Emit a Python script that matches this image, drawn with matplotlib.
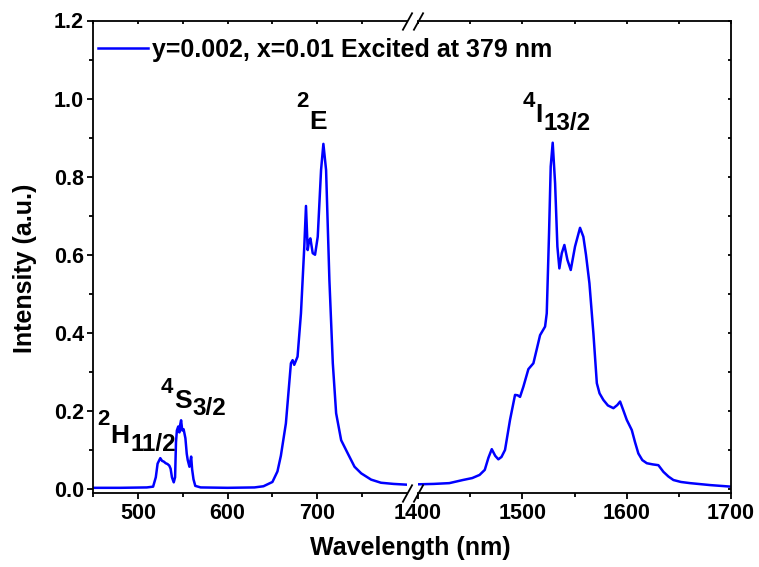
import matplotlib
matplotlib.use("Agg")
from matplotlib import pyplot as plt
from matplotlib.ticker import MultipleLocator, FixedLocator

plt.rcParams['font.family'] = ['Liberation Sans', 'DejaVu Sans']
plt.rcParams['font.weight'] = 'bold'

# visible part of the spectrum (nm, a.u.)
wl_vis = [450, 480, 510, 517, 520, 522, 525, 527, 529, 531, 533, 535, 536.5, 538, 540,
          541.5, 542.5, 543.5, 545, 546.3, 547.2, 548.2, 549.5, 551, 553, 554.5, 555.6,
          557.5, 559.4, 560.5, 562, 564, 570, 600, 630, 640, 650, 655.6, 659.4, 665,
          670.6, 672.5, 674.3, 678, 681.8, 685.5, 687.4, 689.3, 690.8, 692.3, 694.9,
          697.5, 700.5, 704.2, 706.8, 709.8, 713.5, 717.3, 721, 726.6, 734, 741.5, 749,
          760, 771, 785, 800]
int_vis = [0.003, 0.003, 0.004, 0.006, 0.03, 0.065, 0.079, 0.072, 0.070, 0.066, 0.064,
           0.060, 0.052, 0.03, 0.017, 0.03, 0.12, 0.15, 0.16, 0.145, 0.165, 0.176, 0.15,
           0.153, 0.13, 0.09, 0.074, 0.057, 0.083, 0.05, 0.025, 0.008, 0.004, 0.003,
           0.004, 0.007, 0.018, 0.045, 0.085, 0.168, 0.322, 0.330, 0.318, 0.339, 0.45,
           0.62, 0.725, 0.612, 0.635, 0.642, 0.604, 0.60, 0.646, 0.817, 0.884, 0.817,
           0.535, 0.322, 0.194, 0.125, 0.091, 0.057, 0.040, 0.024, 0.016, 0.013, 0.011]

# near-infrared part
wl_nir = [1400, 1415, 1430, 1443, 1452, 1459, 1464, 1467.5, 1470.7, 1474, 1477, 1480,
          1483.4, 1488.2, 1493, 1495.5, 1497.8, 1501, 1505.8, 1510.6, 1514, 1517, 1521.8,
          1523.4, 1525.6, 1527.2, 1529.1, 1531.4, 1533.6, 1535.5, 1537.8, 1540.3, 1543.2,
          1546.4, 1550.5, 1555.3, 1558.5, 1561, 1564.3, 1568.1, 1571.4, 1574, 1577.7,
          1582, 1587.3, 1591, 1593.7, 1597, 1600.1, 1604.9, 1608, 1611.2, 1615, 1619.3,
          1625, 1630.4, 1635.2, 1640, 1644.8, 1652, 1660.8, 1680, 1700]
int_nir = [0.012, 0.013, 0.015, 0.023, 0.028, 0.036, 0.049, 0.08, 0.102, 0.085, 0.076,
           0.082, 0.1, 0.177, 0.241, 0.240, 0.236, 0.262, 0.307, 0.322, 0.36, 0.394,
           0.416, 0.45, 0.655, 0.826, 0.887, 0.783, 0.621, 0.565, 0.604, 0.625, 0.587,
           0.561, 0.621, 0.669, 0.646, 0.60, 0.527, 0.399, 0.271, 0.245, 0.228, 0.214,
           0.207, 0.215, 0.224, 0.20, 0.177, 0.151, 0.12, 0.091, 0.074, 0.066, 0.063,
           0.061, 0.044, 0.032, 0.023, 0.018, 0.015, 0.01, 0.006]

legend_label = "y=0.002, x=0.01 Excited at 379 nm"

# (axis, x, y, superscript, letter, subscript, drop1, drop2)
levels = [
    (0, 455.0, 0.164, "2", "H", "11/2", 13, 6),
    (0, 525.5, 0.246, "4", "S", "3/2", 11, 5),
    (0, 676.0, 0.978, "2", "E", "", 16, 0),
    (1, 1500.0, 0.978, "4", "I", "13/2", 10.5, 6),
]


def level_label(ax, x, y, sup, main, sub, d1, d2):
    t = ax.text(x, y, sup, va='baseline', fontsize=16, fontweight='bold')
    t = ax.annotate(main, xy=(1, 0), xycoords=t, xytext=(0.5, -d1),
                    textcoords='offset points', va='bottom', fontsize=19, fontweight='bold')
    if sub:
        ax.annotate(sub, xy=(1, 0), xycoords=t, xytext=(0.5, -d2),
                    textcoords='offset points', va='bottom', fontsize=17.5, fontweight='bold')


fig = plt.figure(figsize=(7.59, 5.67), dpi=100)
W, H = 759, 567
bottom = 1 - 492.7 / H
height = (492.7 - 20.5) / H
ax1 = fig.add_axes([93 / W, bottom, (407 - 93) / W, height])
ax2 = fig.add_axes([418 / W, bottom, (731 - 418) / W, height], sharey=ax1)

line, = ax1.plot(wl_vis, int_vis, color='#0000ff', lw=1.8)
ax2.plot(wl_nir, int_nir, color='#0000ff', lw=1.8)

ax1.set_xlim(450, 800)
ax2.set_xlim(1400, 1700)
ax1.set_ylim(-0.0095, 1.2)

for ax in (ax1, ax2):
    for s in ax.spines.values():
        s.set_linewidth(1.3)
ax1.spines['right'].set_visible(False)
ax2.spines['left'].set_visible(False)

ax1.xaxis.set_major_locator(FixedLocator([500, 600, 700]))
ax1.xaxis.set_minor_locator(FixedLocator([450, 550, 650, 750]))
ax2.xaxis.set_major_locator(FixedLocator([1400, 1500, 1600, 1700]))
ax2.xaxis.set_minor_locator(FixedLocator([1450, 1550, 1650]))
ax1.yaxis.set_major_locator(FixedLocator([0.0, 0.2, 0.4, 0.6, 0.8, 1.0, 1.2]))
ax1.yaxis.set_minor_locator(MultipleLocator(0.1))
ax1.set_yticklabels(["0.0", "0.2", "0.4", "0.6", "0.8", "1.0", "1.2"])

for ax in (ax1, ax2):
    ax.tick_params(axis='x', which='major', direction='out', length=4.5, width=1.3,
                   labelsize=15.5, pad=3, top=True)
    ax.tick_params(axis='x', which='minor', direction='out', length=3, width=1.3, top=True)
ax1.tick_params(axis='y', which='major', direction='out', length=4.5, width=1.3,
                labelsize=15.5, pad=2)
ax1.tick_params(axis='y', which='minor', direction='out', length=3, width=1.3)
ax2.tick_params(axis='y', which='both', left=False, labelleft=False, right=True,
                direction='in', length=2.5, width=1.3)

# top ticks point inward (mirror axis)
for ax in (ax1, ax2):
    for tk in ax.xaxis.get_major_ticks() + ax.xaxis.get_minor_ticks():
        tk.tick2line.set_marker(3)
        tk.tick2line.set_markersize(2.5)

# break marks
bk = dict(marker=[(-1, -1.8), (1, 1.8)], markersize=13, linestyle='none', color='k',
          mec='k', mew=1.3, clip_on=False)
ax1.plot([1, 1], [0, 1], transform=ax1.transAxes, **bk)
ax2.plot([0, 0], [0, 1], transform=ax2.transAxes, **bk)

for axi, x, y, sup, main, sub, d1, d2 in levels:
    level_label((ax1, ax2)[axi], x, y, sup, main, sub, d1, d2)

fig.legend([line], [legend_label], loc='upper left', bbox_to_anchor=(98 / W, 1 - 38 / H),
           frameon=False, handlelength=2.0, handletextpad=0.15,
           borderpad=0, borderaxespad=0, prop={'weight': 'bold', 'size': 18})

fig.text(410 / W, 1 - 548 / H, "Wavelength (nm)", ha='center', va='center',
         fontsize=18, fontweight='bold')
fig.text(25 / W, 1 - 268 / H, "Intensity (a.u.)", ha='center', va='center',
         rotation=90, fontsize=18, fontweight='bold')

fig.savefig("out.png", dpi=100)
